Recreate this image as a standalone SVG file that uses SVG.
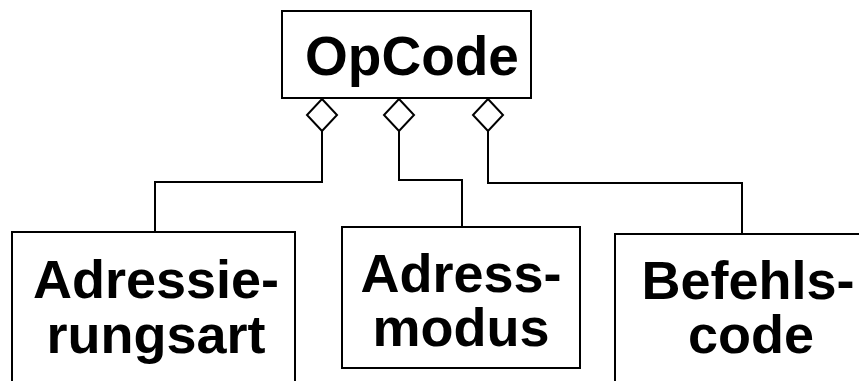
<svg xmlns="http://www.w3.org/2000/svg" width="859" height="381" viewBox="0 0 859 381">
<style>
.box{fill:#fff;stroke:#000;stroke-width:2}
.t{font-family:"Liberation Sans",Arial,sans-serif;font-weight:bold;font-size:54px;fill:#000;text-anchor:middle}
.c{fill:none;stroke:#000;stroke-width:2}
.d{fill:#fff;stroke:#000;stroke-width:2}
</style>
<rect width="859" height="381" fill="#fff"/>
<g id="connectors">
<path class="c" d="M322,131 V182 H155 V232"/>
<path class="c" d="M399,131 V180 H462 V227"/>
<path class="c" d="M488,131 V183 H742 V234"/>
<path class="d" d="M322,99 L337,115 L322,131 L307,115 Z"/>
<path class="d" d="M399,99 L414,115 L399,131 L384,115 Z"/>
<path class="d" d="M488,99 L503,115 L488,131 L473,115 Z"/>
</g>
<g id="opcode">
<rect class="box" x="282" y="11" width="249" height="87"/>
<text class="t" x="412" y="75" style="font-size:55px">OpCode</text>
</g>
<g id="adressierungsart">
<rect class="box" x="12" y="232" width="283" height="180"/>
<text class="t" x="156" y="298">Adressie-</text>
<text class="t" x="156" y="353">rungsart</text>
</g>
<g id="adressmodus">
<rect class="box" x="342" y="227" width="238" height="141"/>
<text class="t" x="461" y="292">Adress-</text>
<text class="t" x="461" y="346">modus</text>
</g>
<g id="befehlscode">
<rect class="box" x="615" y="234" width="266" height="180"/>
<text class="t" x="748" y="299">Befehls-</text>
<text class="t" x="751" y="353">code</text>
</g>
</svg>
